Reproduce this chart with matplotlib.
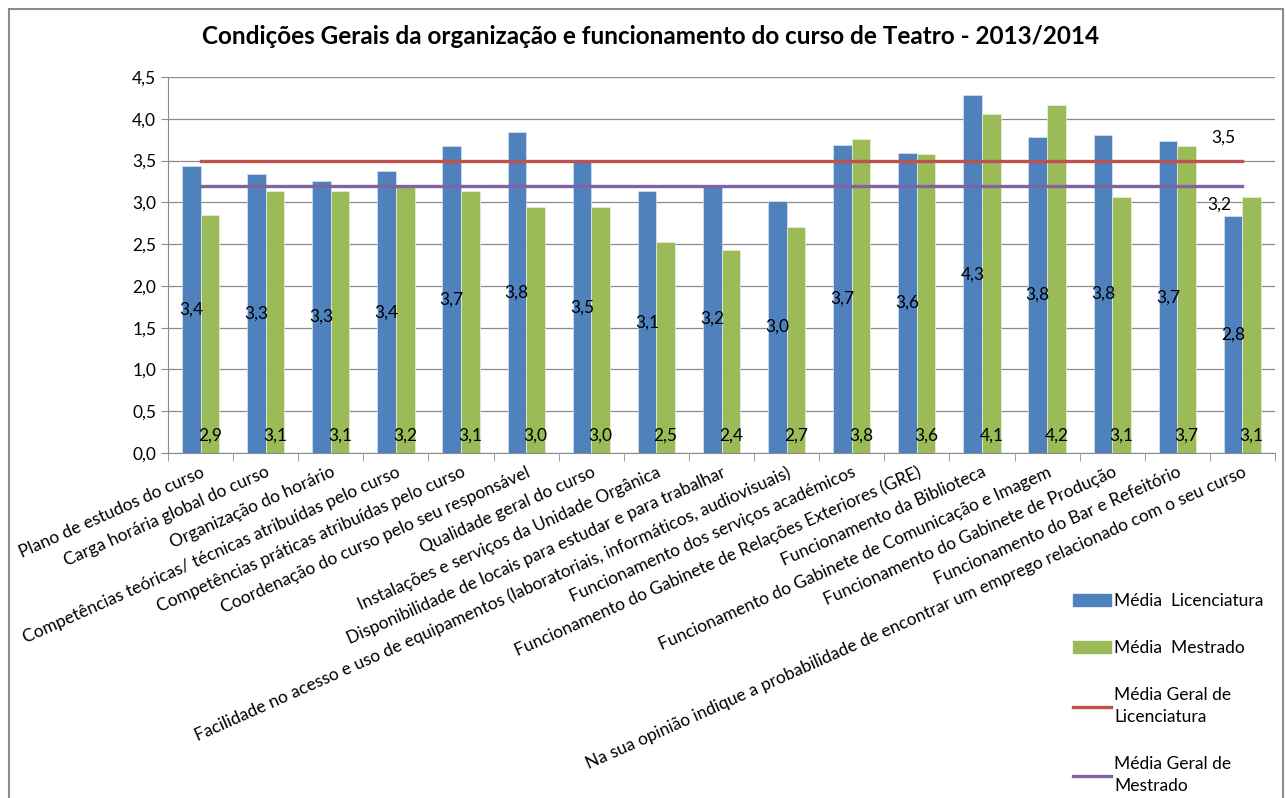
import matplotlib
matplotlib.use("Agg")
import matplotlib.pyplot as plt
import numpy as np
from matplotlib.patches import Rectangle
from matplotlib.lines import Line2D

plt.rcParams['font.family'] = ['Lato', 'DejaVu Sans']

categorias = [
    "Plano de estudos do curso",
    "Carga horária global do curso",
    "Organização do horário",
    "Competências teóricas/ técnicas atribuídas pelo curso",
    "Competências práticas atribuídas pelo curso",
    "Coordenação do curso pelo seu responsável",
    "Qualidade geral do curso",
    "Instalações e serviços da Unidade Orgânica",
    "Disponibilidade de locais para estudar e para trabalhar",
    "Facilidade no acesso e uso de equipamentos (laboratoriais, informáticos, audiovisuais)",
    "Funcionamento dos serviços académicos",
    "Funcionamento do Gabinete de Relações Exteriores (GRE)",
    "Funcionamento da Biblioteca",
    "Funcionamento do Gabinete de Comunicação e Imagem",
    "Funcionamento do Gabinete de Produção",
    "Funcionamento do Bar e Refeitório",
    "Na sua opinião indique a probabilidade de encontrar um emprego relacionado com o seu curso",
]
media_lic = [3.43, 3.34, 3.26, 3.37, 3.68, 3.84, 3.48, 3.13, 3.21, 3.02,
             3.69, 3.59, 4.28, 3.78, 3.81, 3.73, 2.84]
media_mes = [2.85, 3.14, 3.14, 3.19, 3.14, 2.95, 2.95, 2.53, 2.43, 2.70,
             3.76, 3.58, 4.06, 4.17, 3.06, 3.68, 3.06]
geral_lic = 3.5
geral_mes = 3.2

azul = "#4F81BD"
verde = "#9BBB59"
vermelho = "#C0504D"
roxo = "#8064A2"

def virgula(v):
    return f"{v:.1f}".replace(".", ",")

fig = plt.figure(figsize=(12.86, 7.98), dpi=100)
ax = fig.add_axes([168/1286, 1-453/798, (1275-168)/1286, (453-77)/798])

x = np.arange(len(categorias))
w = 0.286
b1 = ax.bar(x - w/2, media_lic, w, color=azul, edgecolor="#dbe5f1", linewidth=0.5, zorder=2)
b2 = ax.bar(x + w/2, media_mes, w, color=verde, edgecolor="#ebf1de", linewidth=0.5, zorder=2)

l1, = ax.plot(x, [geral_lic]*len(x), color=vermelho, lw=2.4, zorder=3)
l2, = ax.plot(x, [geral_mes]*len(x), color=roxo, lw=2.4, zorder=3)

fs = 12.5
for xi, v in zip(x, media_lic):
    ax.text(xi - w/2, v/2, virgula(v), ha="center", va="center", fontsize=fs, zorder=4)
for xi, v in zip(x, media_mes):
    ax.text(xi + w/2, 0.21, virgula(v), ha="center", va="center", fontsize=fs, zorder=4)

ax.annotate(virgula(geral_lic), (x[-1], geral_lic), xytext=(-14, 11), textcoords="offset points",
            ha="center", va="bottom", fontsize=fs)
ax.annotate(virgula(geral_mes), (x[-1], geral_mes), xytext=(-17, -8), textcoords="offset points",
            ha="center", va="top", fontsize=fs)

ax.set_xlim(-0.5, len(x) - 0.5)
ax.set_ylim(0, 4.5)
ax.set_yticks(np.arange(0, 4.51, 0.5))
ax.set_yticklabels([virgula(v) for v in np.arange(0, 4.51, 0.5)], fontsize=fs)
ax.yaxis.grid(True, color="#8c8c8c", lw=0.9, zorder=0)
ax.set_axisbelow(True)

ax.set_xticks(x)
ax.set_xticklabels(categorias, rotation=24, ha="right", va="top", rotation_mode="anchor", fontsize=fs)
ax.set_xticks(np.arange(-0.5, len(x), 1), minor=True)
ax.tick_params(axis="x", which="major", length=0, pad=8)
ax.tick_params(axis="x", which="minor", length=6, color="#8c8c8c", direction="out")
ax.tick_params(axis="y", length=5, color="#8c8c8c")

for s in ["top", "right"]:
    ax.spines[s].set_visible(False)
ax.spines["left"].set_color("#8c8c8c")
ax.spines["bottom"].set_color("#8c8c8c")

fig.text(650/1286, 1-36/798, "Condições Gerais da organização e funcionamento do curso de Teatro - 2013/2014",
         ha="center", va="center", fontsize=17.5, fontweight="bold")

fig.patches.append(Rectangle((9/1286, -0.01), (1283-9)/1286, 1-9/798+0.01, transform=fig.transFigure,
                             fill=False, edgecolor="#8c8c8c", lw=1.5))

handles = [Rectangle((0, 0), 1, 1, color=azul), Rectangle((0, 0), 1, 1, color=verde),
           Line2D([], [], color=vermelho, lw=2.4), Line2D([], [], color=roxo, lw=2.4)]
labels = ["Média  Licenciatura", "Média  Mestrado", "Média Geral de\nLicenciatura", "Média Geral de\nMestrado"]
leg = fig.legend(handles, labels, loc="upper left", bbox_to_anchor=(1064/1286, 1-584/798), frameon=False,
                 fontsize=fs, labelspacing=1.8, handlelength=2.2, handletextpad=0.2, borderpad=0)
for t in leg.get_texts():
    t.set_linespacing(1.45)

fig.savefig("out.png", dpi=100)
